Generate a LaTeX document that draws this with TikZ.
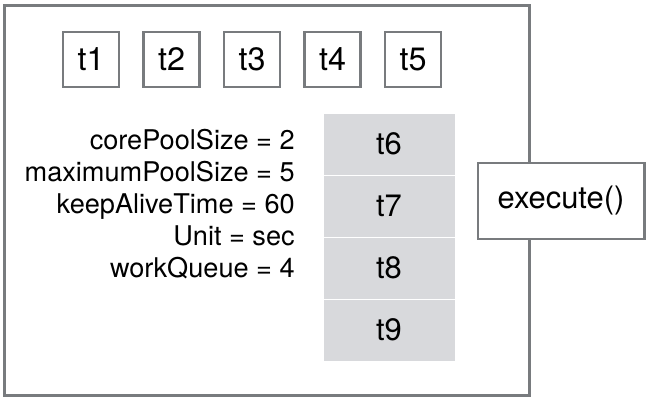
\documentclass[tikz,border=0pt]{standalone}
\usepackage{fontspec}
\setmainfont{TeX Gyre Heros}
\usetikzlibrary{positioning}
\definecolor{FR}{RGB}{120,123,126}
\definecolor{QG}{RGB}{216,217,220}
\begin{document}
\begin{tikzpicture}[
  x=0.025cm, y=0.025cm,
  pool/.style={draw=FR, line width=2.1pt, fill=white, inner sep=0pt,
               minimum width=13.1cm, minimum height=9.725cm},
  task/.style={draw=FR, line width=1.8pt, fill=white, inner sep=0pt,
               minimum width=1.4cm, minimum height=1.375cm,
               font=\fontsize{23}{27}\selectfont},
  cell/.style={draw=white, line width=0.6pt, fill=QG, inner sep=0pt,
               minimum width=3.3cm, minimum height=1.55cm,
               font=\fontsize{22}{26}\selectfont},
  call/.style={draw=FR, line width=2.1pt, fill=white, inner sep=0pt,
               minimum width=4.15cm, minimum height=1.9cm,
               font=\fontsize{22}{26}\selectfont}
]
\useasboundingbox (0,0) rectangle (650,403);

% Thread pool frame
\node[pool] (pool) at (267,202.5) {};

% Tasks already submitted
\node[task] (t1) at (91,343.5)  {t1};
\node[task] (t2) at (171.5,343.5) {t2};
\node[task] (t3) at (252,343.5) {t3};
\node[task] (t4) at (332.5,343.5) {t4};
\node[task] (t5) at (413,343.5) {t5};

% Parameters
\node[align=right, anchor=east, inner sep=0pt,
      font=\fontsize{19.3}{22.8}\selectfont] (param) at (295,199)
  {corePoolSize = 2\\maximumPoolSize = 5\\keepAliveTime = 60\\Unit = sec\\workQueue = 4};

% Work queue
\node[cell] (t6) at (389,259) {t6};
\node[cell] (t7) at (389,197) {t7};
\node[cell] (t8) at (389,135) {t8};
\node[cell] (t9) at (389,73)  {t9};

% Entry point
\node[call] (exec) at (561,202) {execute()};
\end{tikzpicture}
\end{document}
